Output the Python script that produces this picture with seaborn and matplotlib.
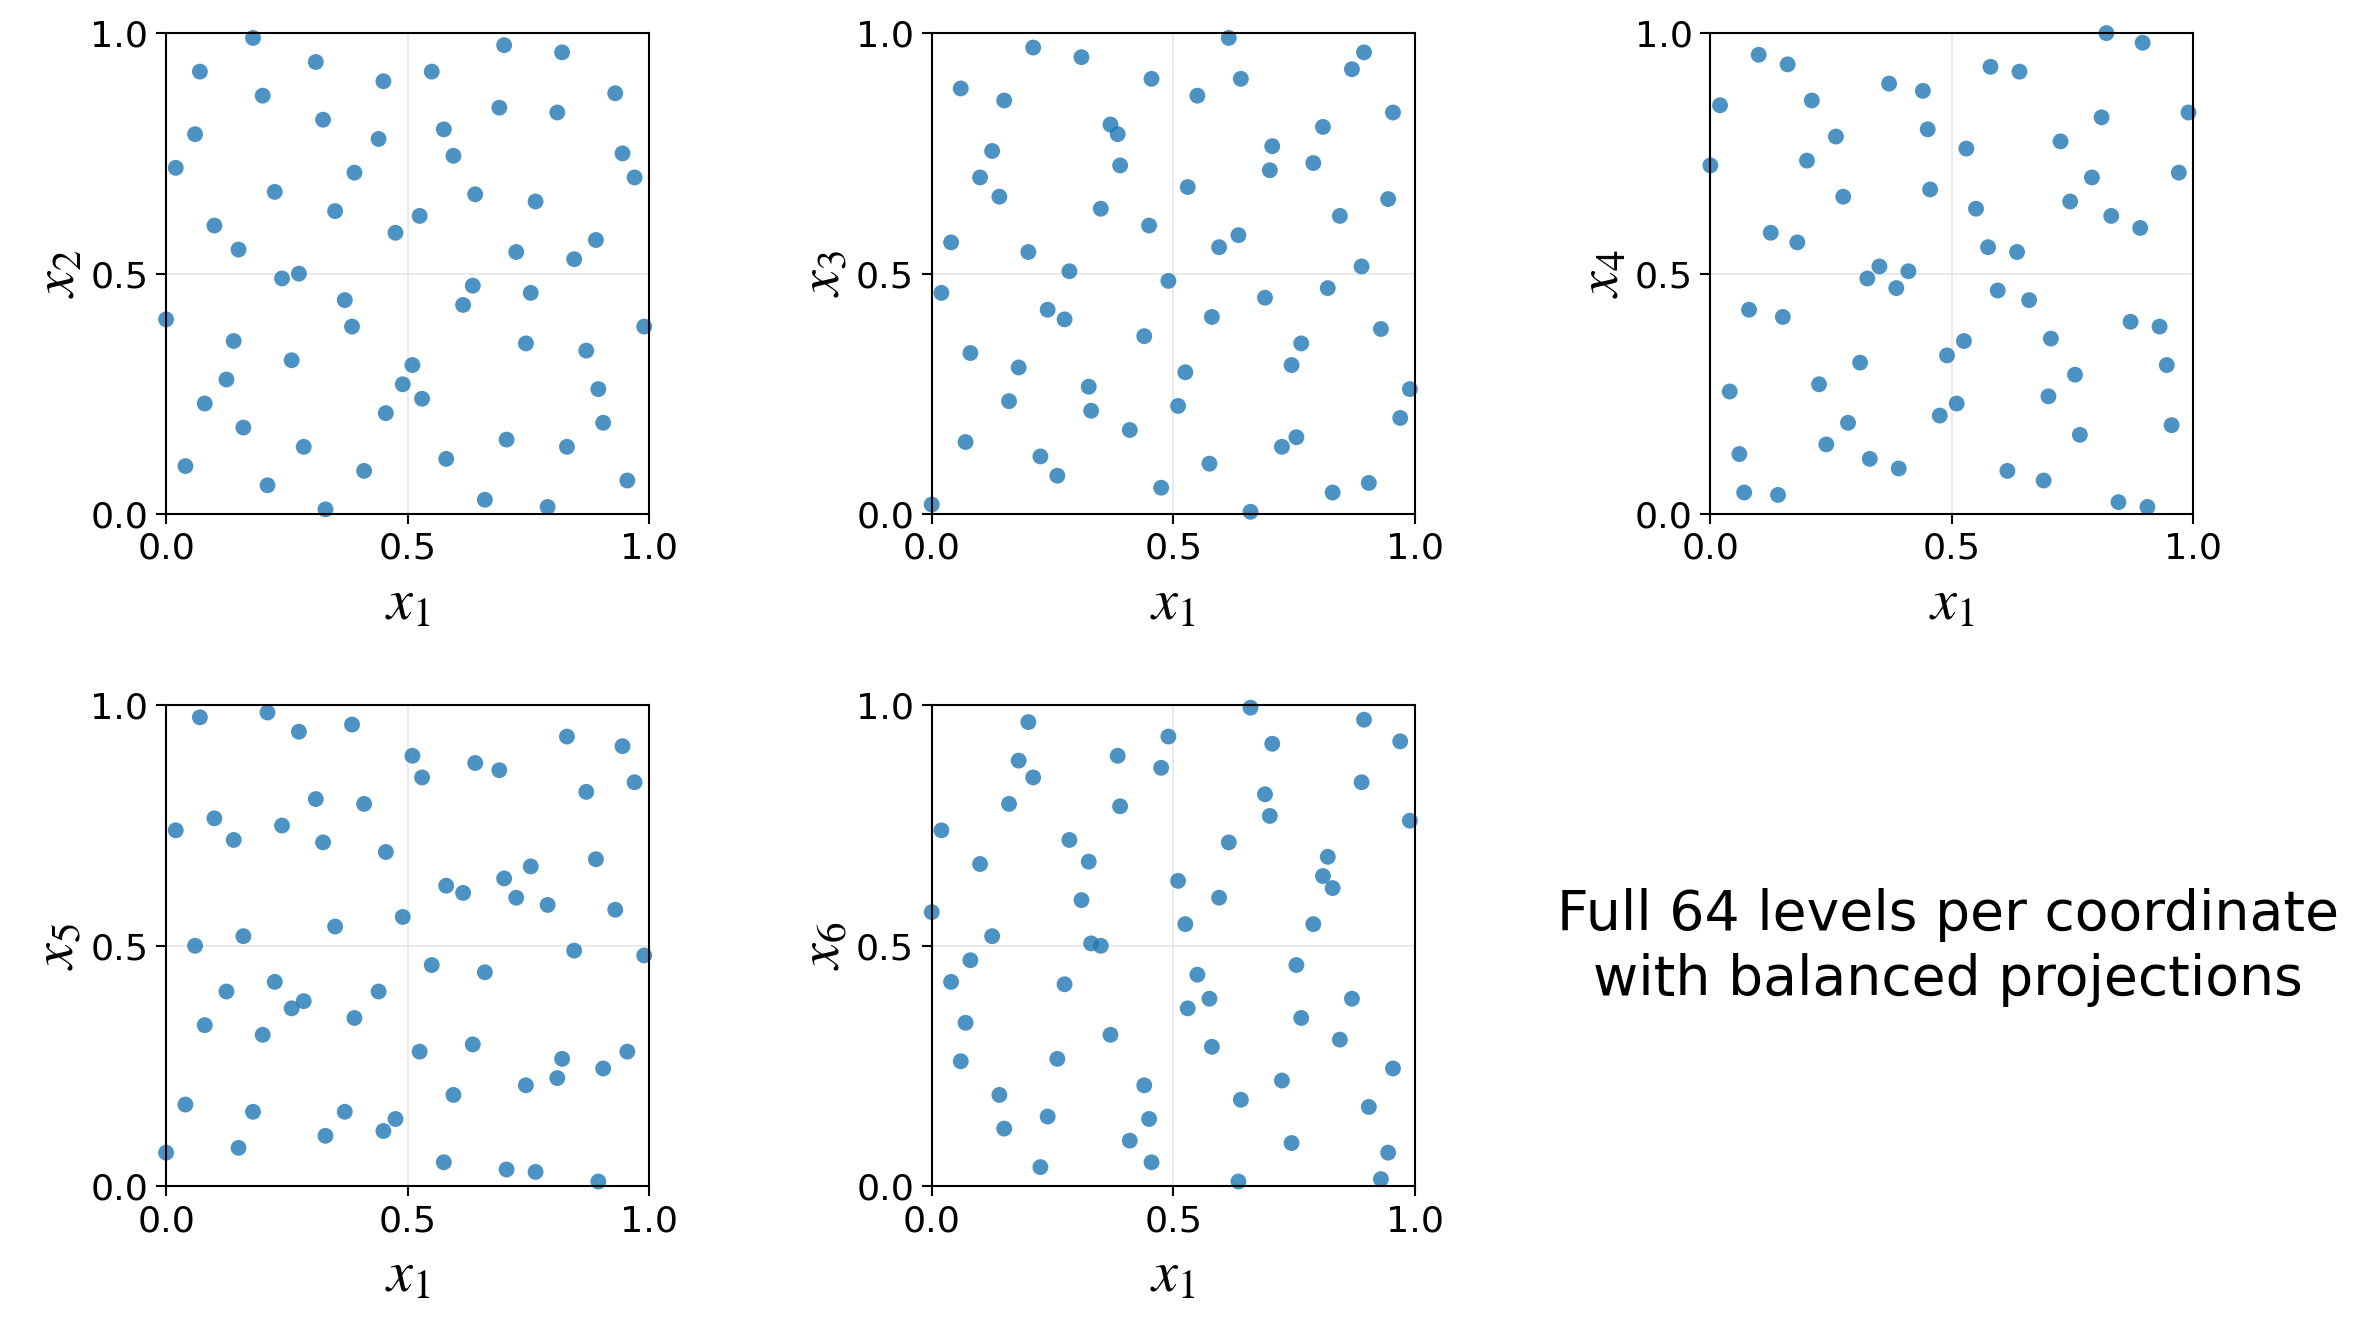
import numpy as np
import pandas as pd
import matplotlib
matplotlib.use("Agg")
import matplotlib.pyplot as plt
import seaborn as sns

# shared first coordinate (64 levels)
x1 = [0.00, 0.02, 0.04, 0.06, 0.07, 0.08, 0.10, 0.125, 0.14, 0.15,
      0.16, 0.18, 0.20, 0.21, 0.225, 0.24, 0.26, 0.275, 0.285, 0.31,
      0.325, 0.33, 0.35, 0.37, 0.385, 0.39, 0.41, 0.44, 0.45, 0.455,
      0.475, 0.49, 0.51, 0.525, 0.53, 0.55, 0.575, 0.58, 0.595, 0.615,
      0.635, 0.64, 0.66, 0.69, 0.70, 0.705, 0.725, 0.745, 0.755, 0.765,
      0.79, 0.81, 0.82, 0.83, 0.845, 0.87, 0.89, 0.895, 0.905, 0.93,
      0.945, 0.955, 0.97, 0.99]

x2 = [0.405, 0.72, 0.10, 0.79, 0.92, 0.23, 0.60, 0.28, 0.36, 0.55,
      0.18, 0.99, 0.87, 0.06, 0.67, 0.49, 0.32, 0.50, 0.14, 0.94,
      0.82, 0.01, 0.63, 0.445, 0.39, 0.71, 0.09, 0.78, 0.90, 0.21,
      0.585, 0.27, 0.31, 0.62, 0.24, 0.92, 0.80, 0.115, 0.745, 0.435,
      0.475, 0.665, 0.03, 0.845, 0.975, 0.155, 0.545, 0.355, 0.46, 0.65,
      0.015, 0.835, 0.96, 0.14, 0.53, 0.34, 0.57, 0.26, 0.19, 0.875,
      0.75, 0.07, 0.70, 0.39]

x3 = [0.02, 0.46, 0.565, 0.885, 0.15, 0.335, 0.70, 0.755, 0.66, 0.86,
      0.235, 0.305, 0.545, 0.97, 0.12, 0.425, 0.08, 0.405, 0.505, 0.95,
      0.265, 0.215, 0.635, 0.81, 0.79, 0.725, 0.175, 0.37, 0.60, 0.905,
      0.055, 0.485, 0.225, 0.295, 0.68, 0.87, 0.105, 0.41, 0.555, 0.99,
      0.58, 0.905, 0.005, 0.45, 0.715, 0.765, 0.14, 0.31, 0.16, 0.355,
      0.73, 0.805, 0.47, 0.045, 0.62, 0.925, 0.515, 0.96, 0.065, 0.385,
      0.655, 0.835, 0.20, 0.26]

x4 = [0.725, 0.85, 0.255, 0.125, 0.045, 0.425, 0.955, 0.585, 0.04, 0.41,
      0.935, 0.565, 0.735, 0.86, 0.27, 0.145, 0.785, 0.66, 0.19, 0.315,
      0.49, 0.115, 0.515, 0.895, 0.47, 0.095, 0.505, 0.88, 0.80, 0.675,
      0.205, 0.33, 0.23, 0.36, 0.76, 0.635, 0.555, 0.93, 0.465, 0.09,
      0.545, 0.92, 0.445, 0.07, 0.245, 0.365, 0.775, 0.65, 0.29, 0.165,
      0.70, 0.825, 1.00, 0.62, 0.025, 0.40, 0.595, 0.98, 0.015, 0.39,
      0.31, 0.185, 0.71, 0.835]

x5 = [0.07, 0.74, 0.17, 0.50, 0.975, 0.335, 0.765, 0.405, 0.72, 0.08,
      0.52, 0.155, 0.315, 0.985, 0.425, 0.75, 0.37, 0.945, 0.385, 0.805,
      0.715, 0.105, 0.54, 0.155, 0.96, 0.35, 0.795, 0.405, 0.115, 0.695,
      0.14, 0.56, 0.895, 0.28, 0.85, 0.46, 0.05, 0.625, 0.19, 0.61,
      0.295, 0.88, 0.445, 0.865, 0.64, 0.035, 0.60, 0.21, 0.665, 0.03,
      0.585, 0.225, 0.265, 0.935, 0.49, 0.82, 0.68, 0.01, 0.245, 0.575,
      0.915, 0.28, 0.84, 0.48]

x6 = [0.57, 0.74, 0.425, 0.26, 0.34, 0.47, 0.67, 0.52, 0.19, 0.12,
      0.795, 0.885, 0.965, 0.85, 0.04, 0.145, 0.265, 0.42, 0.72, 0.595,
      0.675, 0.505, 0.50, 0.315, 0.895, 0.79, 0.095, 0.21, 0.14, 0.05,
      0.87, 0.935, 0.635, 0.545, 0.37, 0.44, 0.39, 0.29, 0.60, 0.715,
      0.01, 0.18, 0.995, 0.815, 0.77, 0.92, 0.22, 0.09, 0.46, 0.35,
      0.545, 0.645, 0.685, 0.62, 0.305, 0.39, 0.84, 0.97, 0.165, 0.015,
      0.07, 0.245, 0.925, 0.76]

df = pd.DataFrame({"x1": x1, "x2": x2, "x3": x3, "x4": x4, "x5": x5, "x6": x6})
panels = ["x2", "x3", "x4", "x5", "x6"]
ylabels = ["$x_2$", "$x_3$", "$x_4$", "$x_5$", "$x_6$"]

sns.set_style("white", {"text.color": "black", "xtick.color": "black",
                        "ytick.color": "black", "axes.labelcolor": "black"})
plt.rcParams["mathtext.fontset"] = "stix"
plt.rcParams["font.family"] = ["DejaVu Sans"]

fig = plt.figure(figsize=(15.706, 8.847), dpi=150)
lefts = [0.0705, 0.3955, 0.726]
bottoms = [0.6125, 0.106]
w, h = 0.205, 0.3625

for i, (col, lab) in enumerate(zip(panels, ylabels)):
    r, c = divmod(i, 3)
    ax = fig.add_axes([lefts[c], bottoms[r], w, h])
    sns.scatterplot(data=df, x="x1", y=col, ax=ax, s=58, color="#1f77b4",
                    alpha=0.8, edgecolor="none", clip_on=False)
    ax.set_xlim(0, 1)
    ax.set_ylim(0, 1)
    ax.set_xticks([0, 0.5, 1.0])
    ax.set_yticks([0, 0.5, 1.0])
    ax.tick_params(labelsize=17.5, length=5, width=1, direction="out",
                   bottom=True, left=True, colors="black")
    ax.grid(True, color="#e6e6e6", linewidth=0.8)
    ax.set_axisbelow(True)
    for s in ax.spines.values():
        s.set_color("black")
        s.set_linewidth(1.0)
    ax.set_xlabel("$x_1$", fontsize=28, color="black")
    ax.set_ylabel(lab, fontsize=28, labelpad=2, color="black")

fig.text(0.827, 0.286, "Full 64 levels per coordinate\nwith balanced projections",
         ha="center", va="center", fontsize=26.5, linespacing=1.25, color="black")

fig.savefig("out.png", dpi=150)
